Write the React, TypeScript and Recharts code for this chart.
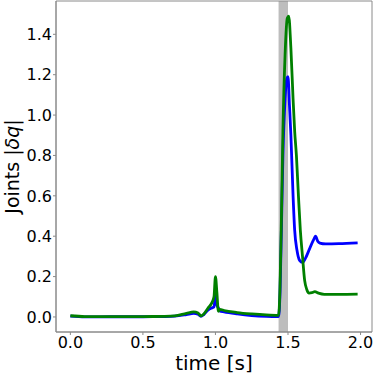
import React from "react";
import { LineChart, Line, XAxis, YAxis, ReferenceArea } from "recharts";

const blueTime = [0, 0.1, 0.3, 0.5, 0.65, 0.72, 0.8, 0.85, 0.88, 0.9, 0.92, 0.95, 0.975, 0.99, 1.0, 1.01, 1.02, 1.03, 1.06, 1.15, 1.25, 1.35, 1.435, 1.445, 1.455, 1.465, 1.48, 1.492, 1.5, 1.51, 1.52, 1.535, 1.546, 1.562, 1.58, 1.6, 1.62, 1.65, 1.675, 1.69, 1.705, 1.72, 1.76, 1.85, 1.98];
const blueValue = [0.004, 0.0, 0.001, 0.001, 0.002, 0.004, 0.012, 0.018, 0.013, 0.003, 0.012, 0.035, 0.045, 0.05, 0.11, 0.06, 0.045, 0.03, 0.025, 0.015, 0.007, 0.003, 0.002, 0.12, 0.45, 0.8, 1.08, 1.18, 1.19, 1.05, 0.9, 0.6, 0.43, 0.33, 0.28, 0.27, 0.29, 0.34, 0.38, 0.4, 0.375, 0.366, 0.362, 0.363, 0.367];

const greenTime = [0, 0.1, 0.3, 0.5, 0.65, 0.72, 0.8, 0.85, 0.88, 0.9, 0.92, 0.95, 0.975, 0.99, 1.0, 1.01, 1.02, 1.03, 1.06, 1.15, 1.25, 1.35, 1.435, 1.445, 1.455, 1.465, 1.48, 1.495, 1.505, 1.52, 1.535, 1.546, 1.558, 1.572, 1.585, 1.6, 1.615, 1.63, 1.645, 1.665, 1.685, 1.71, 1.75, 1.85, 1.98];
const greenValue = [0.006, 0.002, 0.002, 0.002, 0.003, 0.005, 0.018, 0.025, 0.02, 0.005, 0.015, 0.045, 0.07, 0.1, 0.2, 0.12, 0.028, 0.038, 0.032, 0.022, 0.015, 0.01, 0.008, 0.15, 0.5, 0.92, 1.3, 1.48, 1.49, 1.33, 1.08, 0.92, 0.8, 0.6, 0.43, 0.3, 0.18, 0.135, 0.118, 0.12, 0.125, 0.118, 0.112, 0.112, 0.113];

const xTicks = [0, 0.5, 1.0, 1.5, 2.0];
const yTicks = [0, 0.2, 0.4, 0.6, 0.8, 1.0, 1.2, 1.4];
const shadeStart = 1.435;
const shadeEnd = 1.5;
const xDomain = [-0.099, 2.079];
const yDomain = [-0.0745, 1.565];

const blueData = blueTime.map((t, i) => ({ t, v: blueValue[i] }));
const greenData = greenTime.map((t, i) => ({ t, v: greenValue[i] }));

const FONT = "DejaVu Sans";
const FRAME = "#8a8a8a";

const YLabel = (props: any) => {
  const vb = props.viewBox || { x: 0, y: 1, width: 56, height: 331 };
  const cy = vb.y + vb.height / 2;
  const cx = 12;
  return (
    <text
      x={cx}
      y={cy}
      transform={`rotate(-90, ${cx}, ${cy})`}
      textAnchor="middle"
      dominantBaseline="central"
      fontSize={19}
      fontFamily={FONT}
      fill="#000"
    >
      Joints |<tspan fontStyle="italic">δq</tspan>|
    </text>
  );
};

const XLabel = (props: any) => {
  const vb = props.viewBox || { x: 56, y: 332, width: 316, height: 43 };
  return (
    <text
      x={vb.x + vb.width / 2}
      y={370}
      textAnchor="middle"
      fontSize={20}
      fontFamily={FONT}
      fill="#000"
    >
      time [s]
    </text>
  );
};

export default function App() {
  return (
    <div style={{ position: "absolute", left: 0, top: 0, background: "#fff" }}>
      <LineChart
        width={374}
        height={375}
        margin={{ top: 1, right: 2, bottom: 0, left: 0 }}
      >
        <XAxis
          dataKey="t"
          type="number"
          domain={xDomain}
          ticks={xTicks}
          allowDataOverflow
          tickFormatter={(v: number) => v.toFixed(1)}
          height={43}
          tickSize={3}
          tickMargin={2}
          stroke={FRAME}
          tick={{ fill: "#000", fontSize: 16, fontFamily: FONT }}
          label={<XLabel />}
        />
        <YAxis
          type="number"
          domain={yDomain}
          ticks={yTicks}
          allowDataOverflow
          tickFormatter={(v: number) => v.toFixed(1)}
          width={56}
          tickSize={3}
          tickMargin={1}
          stroke={FRAME}
          tick={{ fill: "#000", fontSize: 16, fontFamily: FONT }}
          label={<YLabel />}
        />
        <ReferenceArea
          x1={shadeStart}
          x2={shadeEnd}
          y1={yDomain[0]}
          y2={yDomain[1]}
          fill="#bdbdbd"
          fillOpacity={1}
          stroke="none"
        />
        <ReferenceArea
          x1={xDomain[0]}
          x2={xDomain[1]}
          y1={yDomain[0]}
          y2={yDomain[1]}
          fill="none"
          stroke={FRAME}
          strokeWidth={1}
        />
        <Line
          data={blueData}
          dataKey="v"
          type="monotone"
          stroke="#0000ff"
          strokeWidth={2.8}
          dot={false}
          isAnimationActive={false}
        />
        <Line
          data={greenData}
          dataKey="v"
          type="monotone"
          stroke="#008000"
          strokeWidth={2.8}
          dot={false}
          isAnimationActive={false}
        />
      </LineChart>
    </div>
  );
}
